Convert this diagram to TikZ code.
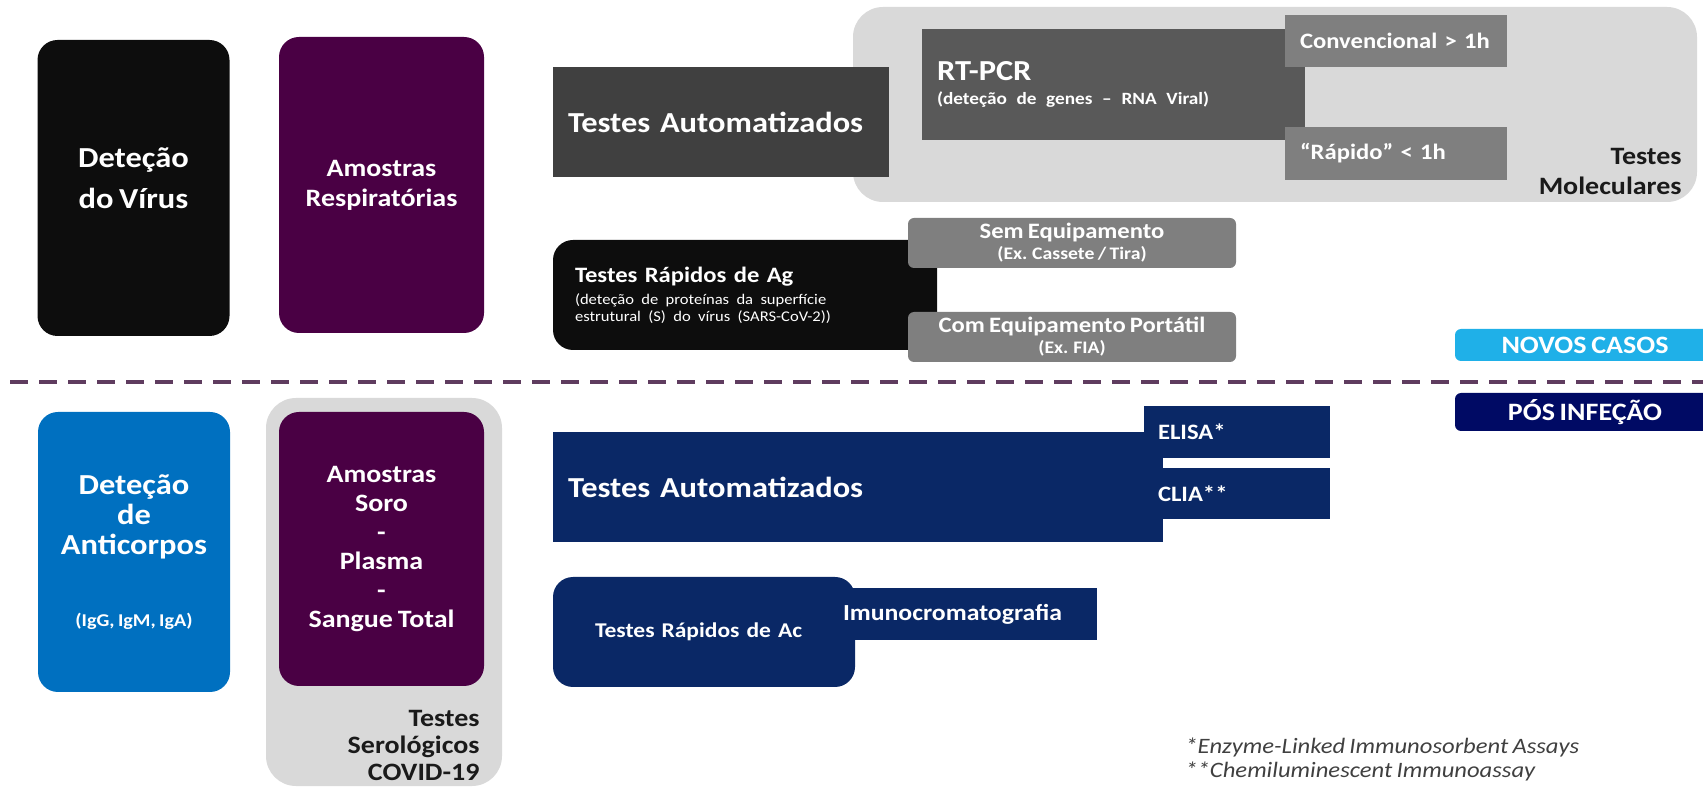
\documentclass[tikz,border=0pt]{standalone}
\usepackage{fontspec}
\setmainfont{Carlito}[FakeStretch=1.12,WordSpace=0.75]
\usepackage{xcolor}
\usetikzlibrary{positioning,calc}

\definecolor{preto}{HTML}{0D0D0D}
\definecolor{grisesc}{HTML}{404040}
\definecolor{grismed}{HTML}{595959}
\definecolor{grisclaro}{HTML}{7F7F7F}
\definecolor{fundo}{HTML}{D9D9D9}
\definecolor{rotulo}{HTML}{1A1A1A}
\definecolor{roxo}{RGB}{74,0,68}
\definecolor{azul}{HTML}{0070C0}
\definecolor{azulclaro}{HTML}{1FB0E8}
\definecolor{marinho}{HTML}{0A2866}
\definecolor{marinhoesc}{RGB}{0,10,100}
\definecolor{tracejado}{RGB}{95,60,95}

\newcommand{\grande}{\fontsize{14.5}{18}\selectfont\bfseries}
\newcommand{\medio}{\fontsize{12.5}{15}\selectfont\bfseries}
\newcommand{\pequeno}{\fontsize{11}{13}\selectfont\bfseries}
\newcommand{\minusc}{\fontsize{8.8}{10}\selectfont\bfseries}
\newcommand{\notas}{\fontsize{11}{12}\selectfont\itshape}

\tikzstyle{caixa}=[fill, text=white, inner sep=0pt, font=\grande]
\tikzstyle{cartao}=[caixa, rounded corners=10pt, minimum width=96pt, minimum height=148pt, align=center]
\tikzstyle{barra}=[caixa, inner xsep=7.5pt, align=left]
\tikzstyle{etiqueta}=[caixa, rounded corners=3pt, font=\medio, align=center]
\tikzstyle{fundocaixa}=[fill=fundo, rounded corners=15pt]
\tikzstyle{divisoria}=[tracejado, line width=1.8pt, dash pattern=on 9pt off 5.5pt]

\begin{document}
\begin{tikzpicture}[x=0.5pt,y=-0.5pt]
  \useasboundingbox (0,0) rectangle (1703,790);
  % fundos
  \node[fundocaixa, minimum width=422pt, minimum height=97.5pt] (molec) at (1275,104.5) {};
  \node[fundocaixa, minimum width=118pt, minimum height=194pt] (serol) at (384,592) {};

  % deteção do virus
  \node[cartao, fill=preto] (virus) at (133.5,188) {};
  \node[text=white, align=center, inner sep=0pt, font=\fontsize{14.5}{20.5}\selectfont\bfseries] (virustxt) at ([yshift=5pt]virus.center) {Deteção\\do Vírus};
  \node[cartao, fill=roxo, font=\medio, minimum width=102.5pt] (resp) at (381.5,185) {Amostras\\Respiratórias};

  \node[barra, fill=grisesc, text width=153pt, minimum height=55pt] (autom1) at (721,122) {Testes Automatizados};
  \node[barra, fill=grismed, font=\fontsize{14.5}{12}\selectfont\bfseries, text width=176.5pt, minimum height=55.5pt] (rtpcr) at (1113.5,84.5)
    {RT-PCR\\\fontsize{8.6}{12}\selectfont (deteção de genes -- RNA Viral)};
  \node[barra, fill=grisclaro, font=\pequeno, text width=96pt, minimum height=26pt] (conv) at (1396,41) {Convencional > 1h};
  \node[barra, fill=grisclaro, font=\pequeno, text width=96pt, minimum height=26.5pt] (rapido) at (1396,153.5) {“Rápido” < 1h};
  \node[anchor=east, align=right, font=\medio, text=rotulo, inner sep=0pt] (lblmolec) at (1682,171)
    {\fontsize{12.5}{14}\selectfont Testes\\Moleculares};

  \node[barra, fill=preto, rounded corners=10pt, font=\fontsize{11}{8.5}\selectfont\bfseries, inner xsep=11pt, text width=170pt, minimum height=55pt] (ag) at (745,295)
    {Testes Rápidos de Ag\\[2.5pt]\fontsize{7.4}{8.5}\selectfont\mdseries (deteção de proteínas da superfície\\estrutural (S) do vírus (SARS-CoV-2))};
  \node[etiqueta, fill=grisclaro, font=\fontsize{11}{10.5}\selectfont\bfseries, minimum width=164pt, minimum height=25pt] (sem) at (1072,243)
    {Sem Equipamento\\\minusc (Ex. Cassete / Tira)};
  \node[etiqueta, fill=grisclaro, font=\fontsize{11}{10.5}\selectfont\bfseries, minimum width=164pt, minimum height=25pt] (com) at (1072,337)
    {Com Equipamento Portátil\\\minusc (Ex. FIA)};

  \node[etiqueta, fill=azulclaro, minimum width=130pt, minimum height=16pt] (novos) at (1585,345) {NOVOS CASOS};
  \coordinate (divE) at (10,382);
  \coordinate (divD) at (1703,382);
  \draw[divisoria] (divE) -- (divD);
  \node[etiqueta, fill=marinhoesc, minimum width=130pt, minimum height=19pt] (pos) at (1585,412) {PÓS INFEÇÃO};

  % deteção de anticorpos
  \node[cartao, fill=azul, font=\fontsize{14.5}{15}\selectfont\bfseries, minimum height=140pt] (antic) at (134,552)
    {Deteção\\de\\Anticorpos\\[21pt]\fontsize{9}{11}\selectfont (IgG, IgM, IgA)};
  \node[cartao, fill=roxo, font=\fontsize{12.5}{14.5}\selectfont\bfseries, minimum width=102.5pt, minimum height=137pt] (amostras) at (381.5,549)
    {Amostras\\Soro\\-\\Plasma\\-\\Sangue Total};
  \node[anchor=east, align=right, text=rotulo, inner sep=0pt, font=\fontsize{12.5}{13.5}\selectfont\bfseries] (lblserol) at (480,745)
    {Testes\\Serológicos\\COVID-19};

  \node[barra, fill=marinho, text width=290pt, minimum height=55pt] (autom2) at (858,487) {Testes Automatizados};
  \node[barra, fill=marinho, font=\pequeno, inner xsep=7pt, text width=79pt, minimum height=26pt] (elisa) at (1237,432) {ELISA*};
  \node[barra, fill=marinho, font=\pequeno, inner xsep=7pt, text width=79pt, minimum height=25.5pt] (clia) at (1237,493.5) {CLIA**};
  \node[barra, fill=marinho, rounded corners=10pt, font=\fontsize{10.5}{13}\selectfont\bfseries, inner xsep=21pt, text width=109pt, minimum height=55pt] (rapac) at (704,632) {Testes Rápidos de Ac};
  \node[barra, fill=marinho, font=\fontsize{11.5}{13}\selectfont\bfseries, text width=119.5pt, minimum height=26pt] (imuno) at (962.5,614) {Imunocromatografia};

  \node[anchor=west, align=left, inner sep=0pt, text=grisesc, font=\notas] (notas) at (1185,759)
    {*Enzyme-Linked Immunosorbent Assays\\**Chemiluminescent Immunoassay};
\end{tikzpicture}
\end{document}
